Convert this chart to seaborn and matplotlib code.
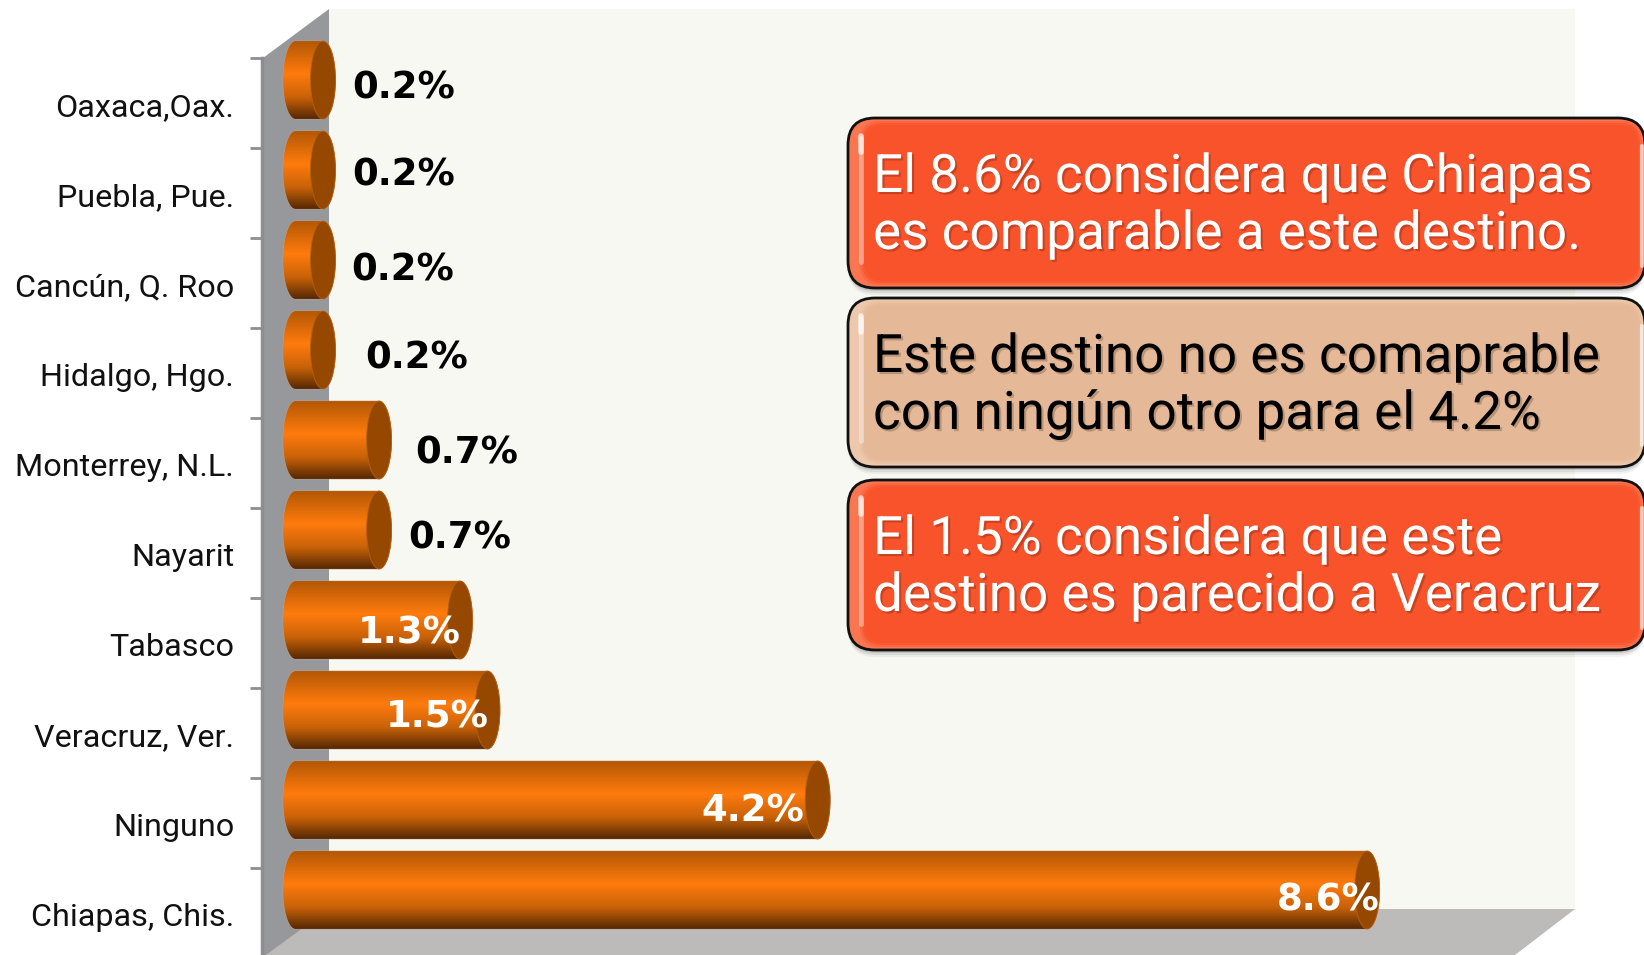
import matplotlib
matplotlib.use('Agg')
import matplotlib.pyplot as plt
import matplotlib.patheffects as pe
from matplotlib.colors import LinearSegmentedColormap
from matplotlib.patches import Ellipse, FancyBboxPatch, Polygon
import numpy as np
import pandas as pd
import seaborn as sns

destinos = ['Oaxaca,Oax.', 'Puebla, Pue.', 'Cancún, Q. Roo', 'Hidalgo, Hgo.', 'Monterrey, N.L.',
            'Nayarit', 'Tabasco', 'Veracruz, Ver.', 'Ninguno', 'Chiapas, Chis.']
valores = [0.22, 0.22, 0.22, 0.22, 0.67, 0.67, 1.32, 1.54, 4.19, 8.6]
etiquetas = ['0.2%', '0.2%', '0.2%', '0.2%', '0.7%', '0.7%', '1.3%', '1.5%', '4.2%', '8.6%']

textos = [['El 8.6% considera que Chiapas', 'es comparable a este destino.'],
          ['Este destino no es comaprable', 'con ningún otro para el 4.2%'],
          ['El 1.5% considera que este', 'destino es parecido a Veracruz']]

# label offsets from the bar end / bar centre, in pixels (hand placed in the original)
label_dx = [29, 29, 28, 42, 36, 29, -102, -102, -116, -90]
label_dy = [-8, -5, -10, -8, -13, -8, -13, -7, -11, -10]

W, H = 1644, 955
PX0, PXU = 295.6, 124.6    # x=0 and pixels per unit
PY0, PYU = 80, 90          # first bar centre and bar pitch
fig = plt.figure(figsize=[W / 100, H / 100], dpi=100, facecolor='white')
font_box = 'Roboto'

# walls and floor, in pixels
back = fig.add_axes([0, 0, 1, 1], zorder=0)
back.set_xlim(0, W)
back.set_ylim(H, 0)
back.axis('off')
back.add_patch(Polygon([(329, 9), (1575, 9), (1575, 909), (329, 909)], fc='#f7f8f2', ec='none'))
back.add_patch(Polygon([(329, 909), (1575, 909), (1515, 955), (265, 955)], fc='#bcbbba', ec='none'))
back.add_patch(Polygon([(263, 58), (329, 9), (329, 909), (266, 955), (263, 955)], fc='#97989c', ec='none'))

# bars
ax = fig.add_axes([262 / W, 0, (1575 - 262) / W, 1], zorder=1)
ax.patch.set_alpha(0)
df = pd.DataFrame({'destino': destinos, 'valor': valores})
sns.barplot(data=df, x='valor', y='destino', orient='h', order=destinos, color='#ff7b0d',
            width=0.865, saturation=1, ax=ax)

cmap = LinearSegmentedColormap.from_list('tubo', [(0, '#b35705'), (0.42, '#ff7b0d'), (0.72, '#c96208'),
                                                  (1, '#552803')])
grad = np.linspace(0, 1, 256).reshape(-1, 1)
ew = 0.1  # half width of the cylinder ends
t = np.linspace(-np.pi / 2, np.pi / 2, 60)
for bar in ax.patches[:len(valores)]:
    x0, y0, bw, bh = bar.get_x(), bar.get_y(), bar.get_width(), bar.get_height()
    yc = y0 + bh / 2
    bar.set_visible(False)
    right = np.column_stack([x0 + bw + ew * np.cos(t), yc + bh / 2 * np.sin(t)])
    left = np.column_stack([x0 - ew * np.cos(t[::-1]), yc + bh / 2 * np.sin(t[::-1])])
    shape = Polygon(np.vstack([right, left]), closed=True, fc='none', ec='#c9a27e', lw=0.6, zorder=2)
    ax.add_patch(shape)
    im = ax.imshow(grad, extent=[x0 - ew, x0 + bw + ew, y0 + bh, y0], aspect='auto', cmap=cmap,
                   interpolation='bilinear', zorder=2)
    im.set_clip_path(shape)
    ax.add_patch(Ellipse((x0 + bw, yc), 2 * ew, bh, fc='#964800', ec='#b5610f', lw=0.6, zorder=3))
ax.set_xlim((262 - PX0) / PXU, (1575 - PX0) / PXU)
ax.set_ylim((H - PY0) / PYU, -PY0 / PYU)

for i, v in enumerate(valores):
    ax.annotate(etiquetas[i], xy=(v, i), xytext=(label_dx[i], label_dy[i]), textcoords='offset pixels',
                ha='left', va='center', fontsize=26.7, fontweight='bold', family='DejaVu Sans',
                color='white' if v > 1 else 'black', zorder=5)

# axis: labels sit half way between the tick marks
ax.set_xlabel('')
ax.set_ylabel('')
ax.set_xticks([])
ax.set_yticks(np.arange(10) + 0.275, destinos, fontsize=23.3, family=font_box, color='#111111')
ax.set_yticks(np.arange(10) - 0.245, minor=True)
ax.tick_params(axis='y', which='major', length=0, pad=20)
ax.tick_params(axis='y', which='minor', length=9, width=2, color='#8e8e8e')
for side in ['top', 'right', 'bottom']:
    ax.spines[side].set_visible(False)
ax.spines['left'].set_color('#8e8e8e')
ax.spines['left'].set_linewidth(2.5)
ax.spines['left'].set_bounds(-0.245, 9.76)

# text boxes on top
front = fig.add_axes([0, 0, 1, 1], zorder=2)
front.set_xlim(0, W)
front.set_ylim(H, 0)
front.axis('off')
cajas = [(118, 288, '#f8532b', '#fa7650', 'white'),
         (298, 467, '#e5b897', '#edc8ac', 'black'),
         (480, 650, '#f8532b', '#fa7650', 'white')]
x_l, x_r = 848, 1645
for (top, bot, fill, ring, tc), lines in zip(cajas, textos):
    for s, a in [(7, 0.05), (5, 0.07), (3, 0.1)]:
        front.add_patch(FancyBboxPatch((x_l, top + s), x_r - x_l, bot - top, boxstyle='round,pad=0,rounding_size=27',
                                       fc='black', ec='none', alpha=a))
    front.add_patch(FancyBboxPatch((x_l, top), x_r - x_l, bot - top, boxstyle='round,pad=0,rounding_size=27',
                                   fc=ring, ec='#111111', lw=2))
    # soft step from the lighter rim to the flat fill
    for inset, a in [(3, 0.4), (5, 0.7), (7, 1)]:
        front.add_patch(FancyBboxPatch((x_l + 9 + inset, top + inset), x_r - x_l - 9 - 2 * inset, bot - top - 2 * inset,
                                       boxstyle='round,pad=0,rounding_size=20', fc=fill, ec='none', alpha=a))
    front.plot([861, 861], [top + 20, bot - 26], color='white', lw=3.5, alpha=0.4, solid_capstyle='round')
    front.plot([861, 861], [top + 18, top + 34], color='white', lw=4, alpha=0.7, solid_capstyle='round')
    front.plot([1642, 1642], [top + 28, bot - 22], color='white', lw=3, alpha=0.6, solid_capstyle='round')
    for j, line in enumerate(lines):
        front.text(873, top + 74 + 57 * j, line, fontsize=38.2, family=font_box, color=tc, va='baseline',
                   path_effects=[pe.withSimplePatchShadow(offset=(1.5, -1.5), shadow_rgbFace='black', alpha=0.2)])

fig.savefig('out.png', dpi=100)
plt.close()
